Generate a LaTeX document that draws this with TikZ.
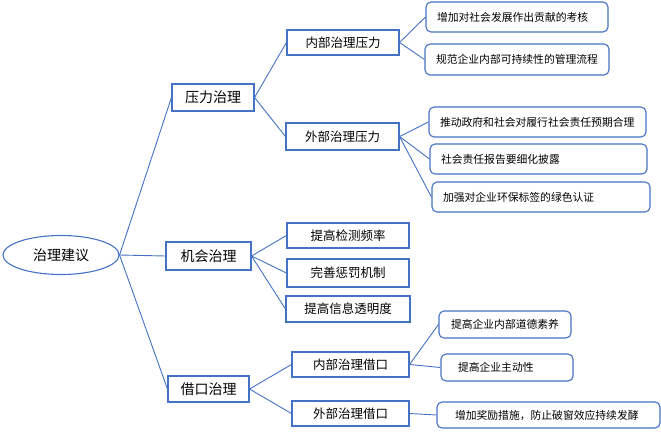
\documentclass[tikz,border=0pt]{standalone}
\usepackage{fontspec}
\usepackage{tikz}
\usetikzlibrary{shapes.geometric}
\newfontfamily\cjk{Noto Sans CJK SC}
\definecolor{Line}{HTML}{4472C4}

\begin{document}
\begin{tikzpicture}[x=1pt,y=-1pt,font=\cjk,
  every node/.style={align=center,inner sep=0pt},
  topic/.style={draw=Line,line width=1.1pt,fill=white,font=\cjk\fontsize{14}{16}\selectfont},
  branch/.style={draw=Line,line width=1.1pt,fill=white,minimum height=26pt,font=\cjk\fontsize{12.5}{14}\selectfont},
  leaf/.style={draw=Line,line width=1.1pt,rounded corners=5pt,fill=white,align=left,inner xsep=11pt,font=\cjk\fontsize{10.8}{12}\selectfont},
  link/.style={draw=Line,line width=0.9pt}]
  \useasboundingbox (0,0) rectangle (661,431);
  % root
  \node[draw=Line,line width=1.1pt,ellipse,minimum width=116pt,minimum height=39pt,font=\cjk\fontsize{14}{16}\selectfont] (root) at (61,255) {治理建议};
  % first level
  \node[topic,minimum width=82pt,minimum height=27pt] (press) at (213,97.5) {压力治理};
  \node[topic,minimum width=85pt,minimum height=28pt] (chance) at (208.5,256) {机会治理};
  \node[topic,minimum width=81pt,minimum height=26pt] (excuse) at (208.5,389) {借口治理};
  % second level
  \node[branch,minimum width=112pt,minimum height=25pt] (pin) at (343,42.5) {内部治理压力};
  \node[branch,minimum width=113pt,minimum height=27pt] (pout) at (342.5,136.5) {外部治理压力};
  \node[branch,minimum width=122pt,minimum height=25pt] (c1) at (348,235.5) {提高检测频率};
  \node[branch,minimum width=122pt,minimum height=28pt] (c2) at (348,273) {完善惩罚机制};
  \node[branch,minimum width=124pt] (c3) at (348,309) {提高信息透明度};
  \node[branch,minimum width=117pt,minimum height=25pt] (ein) at (350.5,364.5) {内部治理借口};
  \node[branch,minimum width=117pt,minimum height=25pt] (eout) at (350.5,413.5) {外部治理借口};
  % leaves (text width = box width - 2*inner xsep)
  \node[leaf,text width=160pt,minimum height=30pt] (pin1) at (517,17) {增加对社会发展作出贡献的考核};
  \node[leaf,text width=162pt,minimum height=31pt] (pin2) at (517,59.5) {规范企业内部可持续性的管理流程};
  \node[leaf,text width=195pt,minimum height=30pt] (pout1) at (537.5,122) {推动政府和社会对履行社会责任预期合理};
  \node[leaf,text width=195pt,minimum height=30pt] (pout2) at (538.5,159) {社会责任报告要细化披露};
  \node[leaf,text width=196pt,minimum height=30pt] (pout3) at (541,197) {加强对企业环保标签的绿色认证};
  \node[leaf,inner xsep=12pt,text width=108pt,minimum height=27pt] (ein1) at (505,324.5) {提高企业内部道德素养};
  \node[leaf,inner xsep=17pt,text width=98pt,minimum height=27pt] (ein2) at (507,367.5) {提高企业主动性};
  \node[leaf,inner xsep=18pt,text width=187pt,minimum height=26pt] (eout1) at (548.5,415) {增加奖励措施，防止破窗效应持续发酵};
  % connectors
  \foreach \t in {press,chance,excuse} \draw[link] (root.east)--(\t.west);
  \foreach \t in {pin,pout} \draw[link] (press.east)--(\t.west);
  \foreach \t in {c1,c2,c3} \draw[link] (chance.east)--(\t.west);
  \foreach \t in {ein,eout} \draw[link] (excuse.east)--(\t.west);
  \foreach \t in {pin1,pin2} \draw[link] (pin.east)--(\t.west);
  \foreach \t in {pout1,pout2,pout3} \draw[link] (pout.east)--(\t.west);
  \foreach \t in {ein1,ein2} \draw[link] (ein.east)--(\t.west);
  \draw[link] (eout.east)--(eout1.west);
\end{tikzpicture}
\end{document}
